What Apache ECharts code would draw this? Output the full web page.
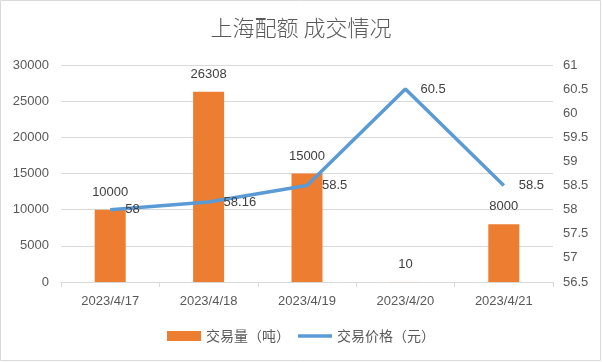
<!DOCTYPE html>
<html><head><meta charset="utf-8">
<script src="https://cdn.jsdelivr.net/npm/echarts@6/dist/echarts.min.js"></script>
<style>html,body{margin:0;padding:0;background:#fff}#c{width:602px;height:362px}</style>
</head><body><div id="c"></div>
<script>
const title = '上海配额 成交情况';
const categories = ['2023/4/17', '2023/4/18', '2023/4/19', '2023/4/20', '2023/4/21'];
const volumeName = '交易量（吨）';
const volumes = [10000, 26308, 15000, 10, 8000];
const priceName = '交易价格（元）';
const prices = [58, 58.16, 58.5, 60.5, 58.5];

const FONT = "'Liberation Sans', 'Noto Sans CJK SC', sans-serif";
const chart = echarts.init(document.getElementById('c'), null, {renderer: 'canvas'});
chart.setOption({
  animation: false,
  textStyle: {fontFamily: FONT},
  graphic: [{type: 'rect', shape: {x: 0.5, y: 0.5, width: 600, height: 360}, style: {fill: 'none', stroke: '#d9d9d9', lineWidth: 1}, silent: true}],
  title: {text: title, left: 'center', top: 12,
    textStyle: {fontSize: 22, fontWeight: 300, color: '#595959', fontFamily: "'Noto Sans CJK SC', sans-serif"}},
  legend: {bottom: 14, left: 'center', itemWidth: 34, itemHeight: 10, itemGap: 8, symbolKeepAspect: true,
    textStyle: {fontSize: 14, color: '#595959', fontFamily: "'Noto Sans CJK SC', sans-serif"},
    data: [{name: volumeName, icon: 'rect'}, {name: priceName, icon: 'path://M0,0H34V3.5H0Z'}]},
  grid: {left: 61, right: 49, top: 65, bottom: 80},
  xAxis: {type: 'category', data: categories, boundaryGap: true,
    axisLine: {lineStyle: {color: '#d9d9d9'}},
    axisTick: {show: true, length: 5, lineStyle: {color: '#d9d9d9'}},
    axisLabel: {color: '#595959', fontSize: 13, margin: 13}},
  yAxis: [
    {type: 'value', min: 0, max: 30000, interval: 5000,
      axisLine: {show: false}, axisTick: {show: false},
      splitLine: {lineStyle: {color: '#d9d9d9'}},
      axisLabel: {color: '#595959', fontSize: 13, margin: 12, formatter: v => String(v)}},
    {type: 'value', min: 56.5, max: 61, interval: 0.5,
      axisLine: {show: false}, axisTick: {show: false},
      splitLine: {show: false},
      axisLabel: {color: '#595959', fontSize: 13, margin: 10, formatter: v => String(v)}}
  ],
  series: [
    {name: volumeName, type: 'bar', data: volumes, barWidth: 31, yAxisIndex: 0,
      itemStyle: {color: '#ed7d31'},
      label: {show: true, position: 'top', distance: 11, color: '#404040', fontSize: 13}},
    {name: priceName, type: 'line', data: prices, yAxisIndex: 1, symbol: 'none',
      lineStyle: {color: '#5b9bd5', width: 3.5}, itemStyle: {color: '#5b9bd5'}},
    {name: priceName + '-label', type: 'scatter', data: prices, yAxisIndex: 1, symbolSize: 2,
      silent: true, z: 5, itemStyle: {color: 'rgba(0,0,0,0)'},
      label: {show: true, position: 'right', distance: 14, color: '#404040', opacity: 1, fontSize: 13}}
  ]
});
</script></body></html>
